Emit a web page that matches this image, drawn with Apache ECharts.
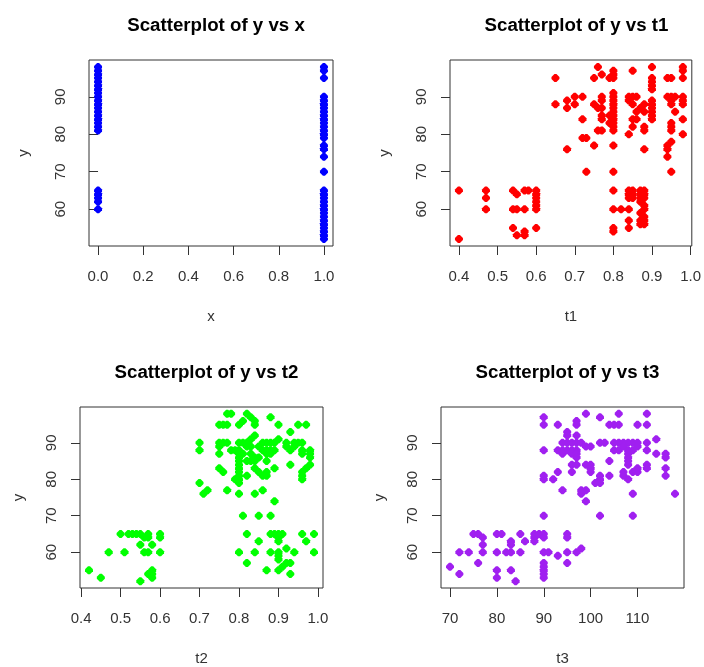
<!DOCTYPE html>
<html>
<head>
<meta charset="utf-8">
<script src="https://cdn.jsdelivr.net/npm/echarts@6/dist/echarts.min.js"></script>
<style>html,body{margin:0;padding:0;background:#fff;}#c{width:704px;height:667px;}</style>
</head>
<body>
<div id="c"></div>
<script>
// ---- data ----
// Panel 1: y vs x
const p1x = [0,0,0,0,0,0,0,0,0,0,0,0,0,0,0,0,0,0, 0,0,0,0,0,
  1,1,1, 1,1,1,1,1,1,1,1,1,1,1,1,1,1, 1,1, 1,1,1,1,1,1,1,1,1,1,1,1,1,1];
const p1y = [98,97,96,95,94,93,92,91,90,89,88,87,86,85,84,83,82,81, 65,64,63,62,60,
  98,97,95, 90,89,88,87,86,85,84,83,82,81,80,79,77,76, 74,70, 65,64,63,62,61,60,59,58,57,56,55,54,53,52];

// Panel 2: y vs t1
const p2x = [0.40,0.40, 0.47,0.47,0.47, 0.54,0.54,0.54, 0.55,0.55,0.55, 0.57,0.57,0.57,0.57, 0.58,
  0.60,0.60,0.60,0.60,0.60,0.60,0.60, 0.65,0.65, 0.68,0.68,0.68, 0.70,0.70, 0.72,0.72,0.72, 0.73,0.73,
  0.75,0.75,0.75, 0.76,0.76,0.76, 0.77,0.77,0.77,0.77,0.77,0.77,0.77, 0.79,0.79,0.79,
  0.80,0.80,0.80,0.80,0.80,0.80,0.80,0.80,0.80,0.80,0.80,0.80,0.80,0.80,0.80,0.80,0.80,0.80,0.80,0.80,
  0.82, 0.84,0.84,0.84,0.84,0.84,0.84,0.84,0.84,0.84, 0.85,0.85,0.85,0.85,0.85,0.85,0.85,0.85,
  0.86,0.86,0.86, 0.87,0.87,0.87,0.87,0.87,0.87,0.87,0.87,
  0.88,0.88,0.88,0.88,0.88,0.88,0.88,0.88,0.88,0.88,0.88,0.88,0.88,
  0.90,0.90,0.90,0.90,0.90,0.90,0.90,0.90,0.90,0.90,0.90,
  0.94,0.94,0.94,0.94,0.94, 0.95,0.95,0.95,0.95,0.95,0.95,0.95,0.95,0.95, 0.96,0.96,
  0.98,0.98,0.98,0.98,0.98,0.98,0.98,0.98];
const p2y = [65,52, 65,63,60, 65,60,55, 64,60,53, 65,60,54,53, 65,
  65,64,63,62,61,60,55, 95,88, 89,87,76, 90,88, 90,84,79, 79,70,
  95,88,77, 98,87,81, 96,90,89,87,85,84,81, 95,85,83,
  97,96,95,91,90,89,88,87,86,85,84,83,82,81,77,70,65,60,55,54,
  60, 90,89,80,65,64,63,60,57,55, 97,90,88,84,82,65,64,63,
  90,86,84, 87,65,64,63,62,59,57,56,
  88,86,82,81,76,65,64,63,61,60,58,57,56,
  98,95,94,93,92,89,88,87,86,85,84,
  95,90,77,76,74, 95,90,89,88,83,82,81,78,70, 90,86,
  98,97,95,90,89,88,84,80];

// Panel 3: y vs t2
const p3x = [0.42,0.45,0.47,0.50,0.51,0.52,0.53,0.54,0.55,0.56,0.57,0.57,0.55,0.56,0.57,0.58,0.60,0.60,0.60,0.55,0.57,0.58,0.58,0.58,
  0.70,0.70,0.70,0.71,0.72,0.75,0.75,0.75,0.75,0.75,
  0.76,0.77,0.77,0.78,0.80,0.81,0.82,0.83,0.84,0.84,0.88,0.90,0.93,0.95,0.97,
  0.84,0.83,0.90,
  0.76,0.77,0.80,0.81,0.82,0.86,0.87,0.88,0.89,0.92,0.94,0.95,0.96,
  0.78,0.79,0.80,0.82,0.83,0.85,0.86,0.87,0.88,0.89,0.92,0.93,0.94,0.98,0.98,0.98,
  0.80,0.80,0.80,0.80,0.81,0.82,0.83,0.84,0.83,0.84,0.85,0.87,0.87,0.88,0.93,0.96,0.96,0.98,
  0.76,0.80,0.80,0.80,0.80,0.79,0.80,0.82,0.84,0.85,0.86,0.87,0.87,0.89,0.96,0.97,0.96,0.96,
  0.77,0.80,0.84,0.86,0.89,0.81,0.85,0.88,
  0.82,0.88,0.89,0.90,0.91,0.90,0.90,0.96,0.99,0.97,0.85,
  0.80,0.84,0.88,0.90,0.90,0.90,0.92,0.94,0.99,
  0.82,0.87,0.90,0.91,0.92,0.93,0.93];
const p3y = [55,53,60,65,60,65,65,65,65,64,65,64,62,60,60,62,65,64,60,52,54,55,53,54,
  90,88,79,76,77,95,90,89,87,83,
  95,95,98,98,95,96,98,97,96,95,97,95,93,95,95,
  92,91,91,
  90,90,90,90,90,90,90,90,90,90,90,90,90,
  88,88,88,89,89,89,88,88,88,88,89,88,89,88,87,86,
  87,86,85,84,87,85,85,85,87,86,86,87,85,87,84,88,87,84,
  82,83,82,81,80,80,79,81,83,82,81,82,81,83,82,83,80,81,
  77,76,76,77,74,70,70,70,
  65,65,65,65,65,64,63,65,65,63,63,
  60,60,60,60,59,58,61,60,60,
  57,55,55,56,57,57,54];

// Panel 4: y vs t3
const p4x = [70,72,72,74,75,76,76,77,77,77,80,81,80,80,80,82,83,83,83,83,84,85,85,86,88,88,88,89,90,90,90,90,91,90,90,90,90,90,93,
  90,90,90,90,90,93,92,93,93,94,94,
  99,102,106,112,97,97,104,105,106,110,112,
  95,95,97,94,95,96,97,98,99,100,94,95,96,97,96,97,97,96,97,96,99,100,100,100,102,103,102,102,101,102,104,104,98,99,98,99,102,109,
  95,95,95,95,97,98,
  105,106,107,108,109,110,105,106,107,108,109,110,108,108,108,108,107,107,108,109,110,110,109,112,112,112,112,114,114,116,116,116,116,118];
const p4y = [56,54,60,60,65,65,57,64,62,60,65,65,60,55,53,60,63,62,60,55,52,65,60,63,65,64,63,65,65,64,70,60,60,57,56,55,54,53,59,
  97,95,88,81,80,95,80,82,88,87,77,
  98,97,98,98,96,95,95,95,95,95,95,
  93,92,92,90,90,90,90,90,89,89,88,88,88,88,87,87,86,84,84,82,84,84,83,82,90,90,81,80,79,79,85,81,77,77,76,74,70,70,
  65,64,60,57,60,61,
  90,90,90,90,90,90,88,88,89,88,88,89,87,86,85,84,82,81,80,82,82,83,76,90,88,84,83,91,87,87,86,83,81,76];

// Axis ranges and tick labels
const yRange = [50.16, 99.84];
const yTicks = [60, 70, 80, 90];
const x1Range = [-0.04, 1.04];
const x1Ticks = [0, 0.2, 0.4, 0.6, 0.8, 1.0];
const x2Range = [0.3768, 1.0032];
const x2Ticks = [0.4, 0.5, 0.6, 0.7, 0.8, 0.9, 1.0];
const x3Range = [0.3972, 1.0128];
const x3Ticks = [0.4, 0.5, 0.6, 0.7, 0.8, 0.9, 1.0];
const x4Range = [68.08, 119.92];
const x4Ticks = [70, 80, 90, 100, 110];

const titles = ['Scatterplot of y vs x', 'Scatterplot of y vs t1', 'Scatterplot of y vs t2', 'Scatterplot of y vs t3'];
const xNames = ['x', 't1', 't2', 't3'];
const colors = ['#0000FF', '#FF0000', '#00FF00', '#A020F0'];

// ---- layout ----
const FONT = 'Liberation Sans, Arial, sans-serif';
const MARK = 'path://M3,0 L5,0 L8,3 L8,5 L5,8 L3,8 L0,5 L0,3 Z';
const grids = [
  {left: 89, top: 60, width: 244, height: 186},
  {left: 450, top: 60, width: 243, height: 186},
  {left: 80, top: 407, width: 243, height: 186},
  {left: 441, top: 407, width: 243, height: 186}
];
const xs = [p1x, p2x, p3x, p4x];
const ys = [p1y, p2y, p3y, p4y];
const xRanges = [x1Range, x2Range, x3Range, x4Range];
const xTickSets = [x1Ticks, x2Ticks, x3Ticks, x4Ticks];

const zip = (a, b) => a.map((v, i) => [v, b[i]]);

const option = {
  backgroundColor: '#fff',
  animation: false,
  title: grids.map((g, i) => ({
    text: titles[i],
    left: g.left + g.width / 2,
    top: g.top - 49,
    textAlign: 'center',
    textStyle: {fontFamily: FONT, fontSize: 18.7, fontWeight: 'bold', color: '#000'}
  })),
  grid: grids.map(g => Object.assign({show: true, borderColor: '#333', borderWidth: 1, backgroundColor: 'transparent', containLabel: false}, g)),
  xAxis: grids.map((g, i) => ({
    type: 'value', gridIndex: i,
    min: xRanges[i][0], max: xRanges[i][1],
    name: xNames[i], nameLocation: 'middle', nameGap: 63,
    nameTextStyle: {fontFamily: FONT, fontSize: 15, color: '#333'},
    axisLine: {show: false},
    splitLine: {show: false},
    axisTick: {show: true, length: 9, lineStyle: {color: '#333'}, customValues: xTickSets[i]},
    axisLabel: {show: true, margin: 23, fontFamily: FONT, fontSize: 15, color: '#333',
      customValues: xTickSets[i],
      formatter: v => (i === 3 ? String(Math.round(v)) : Number(v).toFixed(1))}
  })),
  yAxis: grids.map((g, i) => ({
    type: 'value', gridIndex: i,
    min: yRange[0], max: yRange[1],
    name: 'y', nameLocation: 'middle', nameGap: i < 2 ? 58 : 54, nameRotate: 90,
    nameTextStyle: {fontFamily: FONT, fontSize: 15, color: '#333'},
    axisLine: {show: false},
    splitLine: {show: false},
    axisTick: {show: true, length: 9, lineStyle: {color: '#333'}, customValues: yTicks},
    axisLabel: {show: true, margin: 21, rotate: 90, fontFamily: FONT, fontSize: 15, color: '#333',
      customValues: yTicks, formatter: v => String(Math.round(v))}
  })),
  series: grids.map((g, i) => ({
    type: 'scatter', xAxisIndex: i, yAxisIndex: i,
    symbol: MARK, symbolSize: 8,
    itemStyle: {color: colors[i], opacity: 1},
    data: zip(xs[i], ys[i])
  }))
};

const chart = echarts.init(document.getElementById('c'), null, {renderer: 'canvas'});
chart.setOption(option);
</script>
</body>
</html>
